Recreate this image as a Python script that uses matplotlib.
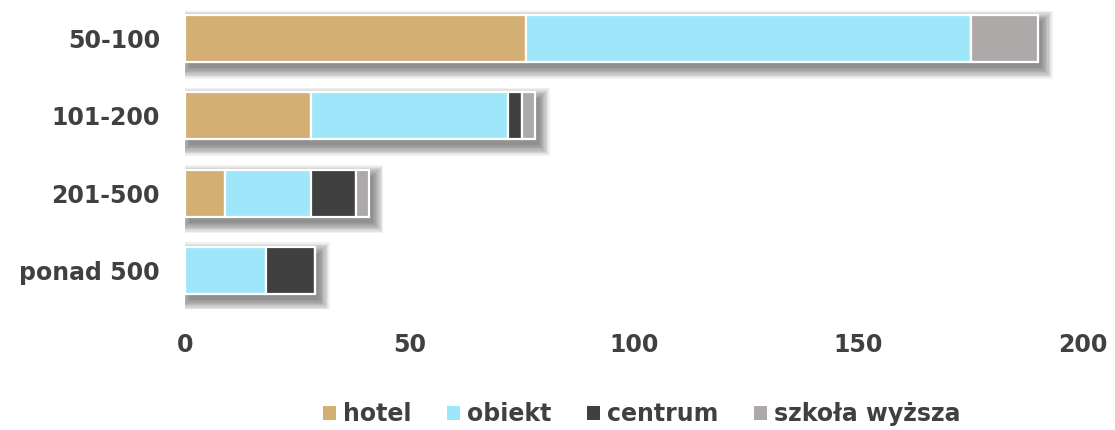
import matplotlib
matplotlib.use("Agg")
import matplotlib.pyplot as plt
import matplotlib.transforms as mtransforms
from matplotlib.patches import Patch
import numpy as np

categories = ["50-100", "101-200", "201-500", "ponad 500"]
series_names = ["hotel", "obiekt", "centrum", "szkoła wyższa"]
hotel = [76, 28, 9, 0]
obiekt = [99, 44, 19, 18]
centrum = [0, 3, 10, 11]
szkola = [15, 3, 3, 0]
x_ticks = [0, 50, 100, 150, 200]

colors = ["#D3AF74", "#9EE7FA", "#404040", "#ADA9A8"]
text_color = "#404040"

plt.rcParams['font.family'] = ['DejaVu Sans']

fig = plt.figure(figsize=(11.15, 4.30), dpi=100)
ax = fig.add_axes([185/1115, 1 - 309/430, (1083-185)/1115, 309/430])

series = [hotel, obiekt, centrum, szkola]
y = np.arange(len(categories))
bar_h = 0.61
totals = np.sum(np.array(series), axis=0)

# soft drop shadow (layered)
for k in range(9):
    spread_px = k * 1.3
    off = mtransforms.ScaledTranslation(4/100, -6/100, fig.dpi_scale_trans)
    tr = ax.transData + off
    dx = spread_px / 4.49
    dy = spread_px / 77.6
    ax.barh(y, totals + 2*dx, left=-dx, height=bar_h + 2*dy, color="black",
            alpha=0.06, linewidth=0, transform=tr, zorder=1)

left = np.zeros(len(categories))
for name, vals, c in zip(series_names, series, colors):
    vals = np.array(vals, dtype=float)
    ax.barh(y, vals, left=left, height=bar_h, color=c, edgecolor="white",
            linewidth=1.6, zorder=3, label=name)
    left += vals

ax.set_ylim(3.5, -0.5)
ax.set_xlim(0, 200)
ax.set_yticks(y)
ax.set_yticklabels(categories)
ax.set_xticks(x_ticks)
ax.set_xticklabels([str(t) for t in x_ticks])
for s in ax.spines.values():
    s.set_visible(False)
ax.tick_params(axis='both', length=0, colors=text_color, labelsize=17)
ax.tick_params(axis='y', pad=18)
ax.tick_params(axis='x', pad=17)
for lab in ax.get_xticklabels() + ax.get_yticklabels():
    lab.set_fontweight('bold')
    lab.set_color(text_color)

handles = [Patch(facecolor=c, edgecolor='none') for c in colors]
leg = fig.legend(handles, series_names, loc='center', bbox_to_anchor=(642/1115, 1 - 414/430),
                 ncol=4, frameon=False, handlelength=0.55, handleheight=0.55,
                 handletextpad=0.3, columnspacing=1.5,
                 prop={'weight': 'bold', 'size': 17})
for t in leg.get_texts():
    t.set_color(text_color)

fig.savefig("out.png", dpi=100)
